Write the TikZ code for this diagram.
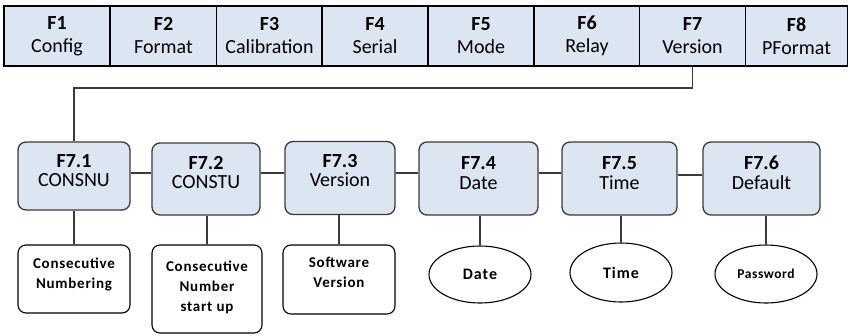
\documentclass[tikz,border=0pt]{standalone}
\usepackage{fontspec}
\setmainfont{Carlito}
\newfontfamily\leaffont[LetterSpace=5]{Carlito}
\newfontfamily\ellfont[LetterSpace=6]{Carlito}
\newfontfamily\pwfont[LetterSpace=4]{Carlito}
\usetikzlibrary{shapes.geometric}
\definecolor{cellfill}{HTML}{DCE6F2}
\definecolor{edge}{HTML}{3A3A3A}
\newcommand{\upbox}[2]{\raisebox{#1}[\height][\depth]{\begin{tabular}{@{}c@{}}#2\end{tabular}}}
\tikzset{
  topcell/.style={draw=black, line width=1.4pt, fill=cellfill, minimum width=106pt, minimum height=60pt, inner sep=0pt, align=center, font=\fontsize{20}{23}\selectfont},
  subbox/.style={draw=edge, line width=1.3pt, fill=cellfill, rounded corners=8pt, inner sep=0pt, align=center, font=\fontsize{20}{19.5}\selectfont},
  leafbox/.style={draw=black, line width=1.1pt, fill=white, rounded corners=8pt, inner sep=0pt, align=center, font=\leaffont\bfseries\fontsize{15}{20}\selectfont},
  leafell/.style={draw=black, line width=1.1pt, fill=white, ellipse, inner sep=0pt, align=center, font=\ellfont\bfseries\fontsize{16}{18}\selectfont},
  link/.style={draw=edge, line width=1.2pt}
}
\begin{document}
\begin{tikzpicture}[x=1pt,y=1pt]
\useasboundingbox (0,0) rectangle (850,-335);
% top bar
\node[topcell] (f1) at (57,-36) {\textbf{F1}\\Config};
\node[topcell] (f2) at (163.5,-36) {\textbf{F2}\\Format};
\node[topcell] (f3) at (269.5,-36) {\textbf{F3}\\Calibration};
\node[topcell] (f4) at (375,-36) {\textbf{F4}\\Serial};
\node[topcell] (f5) at (481,-36) {\textbf{F5}\\Mode};
\node[topcell] (f6) at (587,-36) {\textbf{F6}\\Relay};
\node[topcell] (f7) at (692.5,-36) {\textbf{F7}\\Version};
\node[topcell, minimum width=102pt] (f8) at (796.5,-36) {\textbf{F8}\\PFormat};
% second row
\node[subbox, minimum width=112pt, minimum height=68pt] (c1) at (74,-176) {\upbox{3pt}{\textbf{F7.1}\\CONSNU}};
\node[subbox, minimum width=108pt, minimum height=72pt] (c2) at (206,-179) {\upbox{4pt}{\textbf{F7.2}\\CONSTU}};
\node[subbox, minimum width=110pt, minimum height=73pt] (c3) at (340,-178) {\upbox{5pt}{\textbf{F7.3}\\Version}};
\node[subbox, minimum width=119pt, minimum height=73pt] (c4) at (478.5,-178.5) {\upbox{3pt}{\textbf{F7.4}\\Date}};
\node[subbox, minimum width=115pt, minimum height=73pt] (c5) at (619.5,-178.5) {\upbox{3pt}{\textbf{F7.5}\\Time}};
\node[subbox, minimum width=117pt, minimum height=73pt] (c6) at (761.5,-178.5) {\upbox{3pt}{\textbf{F7.6}\\Default}};
% leaves
\node[leafbox, minimum width=112pt, minimum height=68pt] (b1) at (74,-279) {\upbox{5pt}{Consecutive\\Numbering}};
\node[leafbox, minimum width=110pt, minimum height=88pt] (b2) at (207,-289) {\upbox{2pt}{Consecutive\\Number\\start up}};
\node[leafbox, minimum width=112pt, minimum height=69pt] (b3) at (339,-279.5) {\upbox{6pt}{Software\\Version}};
\node[leafell, minimum width=102pt, minimum height=57pt] (e4) at (480,-274.5) {Date};
\node[leafell, minimum width=102pt, minimum height=59pt] (e5) at (621,-272.5) {Time};
\node[leafell, minimum width=102pt, minimum height=58pt, font=\pwfont\bfseries\fontsize{13.5}{15}\selectfont] (e6) at (766,-274) {Password};
% connectors
\coordinate (bend) at (692.5,-88);
\draw[link] (f7.south) -- (bend) -| (c1.north);
\draw[link] (c1.east |- 0,-173) -- (c2.west |- 0,-173);
\draw[link] (c2.east |- 0,-173) -- (c3.west |- 0,-173);
\draw[link] (c3.east |- 0,-173) -- (c4.west |- 0,-173);
\draw[link] (c4.east |- 0,-173) -- (c5.west |- 0,-173);
\draw[link] (c5.east |- 0,-175) -- (c6.west |- 0,-175);
\draw[link] (b1.north) -- (b1.north |- c1.south);
\draw[link] (b2.north) -- (b2.north |- c2.south);
\draw[link] (b3.north) -- (b3.north |- c3.south);
\draw[link] (e4.north) -- (e4.north |- c4.south);
\draw[link] (e5.north) -- (e5.north |- c5.south);
\draw[link] (e6.north) -- (e6.north |- c6.south);
\end{tikzpicture}
\end{document}
